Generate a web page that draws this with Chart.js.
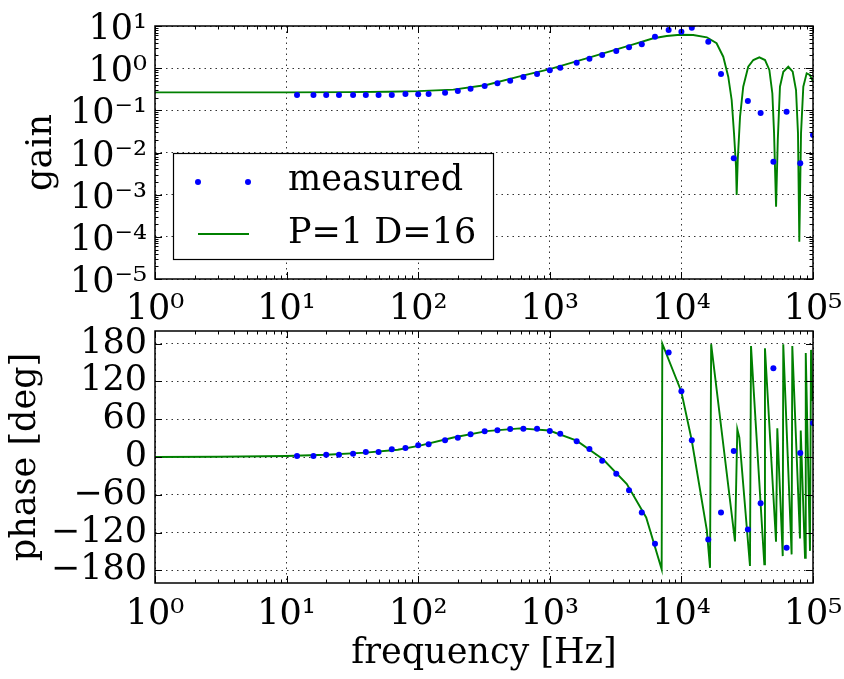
<!DOCTYPE html>
<html>
<head>
<meta charset="utf-8">
<title>gain / phase</title>
<script src="https://cdn.jsdelivr.net/npm/chart.js@4.4.1/dist/chart.umd.min.js"></script>
<style>
  body { margin: 0; background: #fff; }
  #wrap { position: relative; width: 844px; height: 679px; }
  #wrap canvas { position: absolute; left: 0; top: 0; }
</style>
</head>
<body>
<div id="wrap">
  <canvas id="gainChart" width="844" height="679"></canvas>
  <canvas id="phaseChart" width="844" height="679"></canvas>
</div>
<script>
// measured points
const measuredFreq = [12, 16, 20, 25, 32, 40, 50, 63, 80, 100,
  120, 160, 200, 250, 320, 400, 500, 630, 800, 1000,
  1200, 1600, 2000, 2500, 3200, 4000, 5000, 6300, 8000, 10000,
  12000, 16000, 20000, 25000, 32000, 40000, 50000, 63000, 80000, 100000];
const measuredGain = [0.23, 0.23, 0.23, 0.23, 0.23, 0.23, 0.23, 0.23, 0.245, 0.24,
  0.244, 0.262, 0.288, 0.327, 0.378, 0.438, 0.505, 0.618, 0.728, 0.889,
  1.03, 1.35, 1.68, 2.05, 2.55, 3.12, 3.68, 5.58, 8.04, 7.33,
  9.12, 4.25, 0.728, 0.0073, 0.167, 0.0865, 0.006, 0.093, 0.00555, 0.026];
const measuredPhase = [1.6, 1.6, 3.7, 3.7, 5.3, 7.9, 7.9, 12.2, 14.3, 18.5,
  20.1, 26.5, 30.7, 36.0, 40.8, 42.4, 44.5, 45.0, 45.0, 41.3,
  37.0, 24.9, 12.7, -5.8, -26.5, -52.9, -87.9, -137.7, 165.7, 104.4,
  26.5, -130.8, -87.9, 9.5, -114.9, -73.6, 140.9, -144.1, 6.4, 54];

// model curve P=1 D=16
const modelGainFreq = [1, 10, 30, 60, 100, 185, 330, 600, 1000, 1900,
  3220, 4310, 6120, 7730, 9760, 12300, 15600, 18500, 20800, 22700,
  24100, 25100, 26000, 26300, 26800, 27900, 29500, 32200, 35200, 39100,
  43200, 46600, 49100, 50600, 52400, 54000, 56100, 59500, 64900, 70100,
  74300, 76900, 78700, 81100, 84400, 89500, 94800, 100000];
const modelGain = [0.267, 0.267, 0.27, 0.276, 0.285, 0.31, 0.40, 0.65, 0.95, 1.7,
  2.8, 3.68, 5.11, 5.79, 6.22, 6.12, 5.40, 3.89, 1.87, 0.628,
  0.176, 0.029, 0.0046, 0.00098, 0.0066, 0.0706, 0.364, 1.08, 1.56, 1.81,
  1.56, 0.905, 0.254, 0.0286, 0.00052, 0.0198, 0.364, 0.824, 1.08, 0.824,
  0.303, 0.0286, 0.0000767, 0.0286, 0.364, 0.755, 0.689, 0.478];

const modelPhaseFreq = [1, 3, 10, 20, 40, 70, 103, 185, 331, 594,
  991, 1600, 2550, 3850, 5400, 7080, 7160, 9980, 11970, 15600,
  16500, 16830, 25540, 26600, 27550, 33200, 33800, 42660, 43150, 52350,
  53550, 58880, 59440, 68800, 69620, 79620, 80700, 86960, 88100, 94860,
  96600, 98900];
const modelPhase = [0, 0.3, 1.5, 3.5, 7, 11.5, 18, 31, 41, 45.5,
  42, 26, -4, -43, -96, -178.4, 180, 104, 27, -116,
  -176, 179, -134, 44, 31, -173, 176, -170.5, 172.7, -134.6,
  45.6, -157.3, 179, -154.6, 176, -129.5, 42, -160, 165, -149,
  170, 89];

// ticks
const freqTicks = [1, 10, 100, 1000, 10000, 100000];
const freqTickLabels = ['10\u2070', '10\u00b9', '10\u00b2', '10\u00b3', '10\u2074', '10\u2075'];
const gainTicks = [1e-5, 1e-4, 1e-3, 1e-2, 1e-1, 1, 10];
const gainTickLabels = ['10\u207b\u2075', '10\u207b\u2074', '10\u207b\u00b3', '10\u207b\u00b2', '10\u207b\u00b9', '10\u2070', '10\u00b9'];
const phaseTicks = [-180, -120, -60, 0, 60, 120, 180];
const phaseTickLabels = ['\u2212180', '\u2212120', '\u221260', '0', '60', '120', '180'];

const FONT = 'DejaVu Serif';
const tickFont = { family: FONT, size: 35 };
const labelFont = { family: FONT, size: 35 };

Chart.defaults.font.family = FONT;
Chart.defaults.color = '#000';
Chart.defaults.animation = false;

function pts(xs, ys) {
  return xs.map((x, i) => ({ x: x, y: ys[i] }));
}

function setTicks(values) {
  return function (scale) {
    scale.ticks = values.map(v => ({ value: v }));
  };
}

function labelFrom(values, labels) {
  return function (value) {
    const i = values.indexOf(value);
    return i < 0 ? '' : labels[i];
  };
}

// frame + inward ticks on all four sides, like matplotlib
const frameTicks = {
  id: 'frameTicks',
  afterDatasetsDraw(chart) {
    const ctx = chart.ctx, a = chart.chartArea;
    const xs = chart.scales.x, ys = chart.scales.y;
    ctx.save();
    ctx.strokeStyle = '#000';
    ctx.lineWidth = 1;
    const seg = (x1, y1, x2, y2) => {
      ctx.beginPath(); ctx.moveTo(x1, y1); ctx.lineTo(x2, y2); ctx.stroke();
    };
    const minorVals = (scale) => {
      if (scale.type !== 'logarithmic') return [];
      const out = [];
      const t = scale.ticks.map(k => k.value);
      for (let i = 0; i < t.length - 1; i++) {
        for (let k = 2; k <= 9; k++) out.push(t[i] * k);
      }
      return out;
    };
    xs.ticks.forEach(t => {
      const p = Math.round(xs.getPixelForValue(t.value)) + 0.5;
      seg(p, a.bottom, p, a.bottom - 7);
      seg(p, a.top, p, a.top + 7);
    });
    minorVals(xs).forEach(v => {
      const p = Math.round(xs.getPixelForValue(v)) + 0.5;
      seg(p, a.bottom, p, a.bottom - 3.5);
      seg(p, a.top, p, a.top + 3.5);
    });
    ys.ticks.forEach(t => {
      const p = Math.round(ys.getPixelForValue(t.value)) + 0.5;
      seg(a.left, p, a.left + 7, p);
      seg(a.right, p, a.right - 7, p);
    });
    minorVals(ys).forEach(v => {
      const p = Math.round(ys.getPixelForValue(v)) + 0.5;
      seg(a.left, p, a.left + 3.5, p);
      seg(a.right, p, a.right - 3.5, p);
    });
    ctx.lineWidth = 1.5;
    ctx.strokeRect(a.left, a.top, a.right - a.left, a.bottom - a.top);
    ctx.restore();
  }
};

// legend box in the gain panel
const boxLegend = {
  id: 'boxLegend',
  afterDraw(chart) {
    const ctx = chart.ctx;
    const ds = chart.data.datasets;
    ctx.save();
    ctx.fillStyle = '#fff';
    ctx.fillRect(173, 153, 320, 106);
    ctx.strokeStyle = '#000';
    ctx.lineWidth = 1.2;
    ctx.strokeRect(173.5, 153.5, 320, 106);
    // measured
    ctx.fillStyle = ds[0].backgroundColor;
    [198, 248].forEach(x => {
      ctx.beginPath(); ctx.arc(x, 182, 3, 0, Math.PI * 2); ctx.fill();
    });
    // model
    ctx.strokeStyle = ds[1].borderColor;
    ctx.lineWidth = ds[1].borderWidth;
    ctx.beginPath(); ctx.moveTo(198, 234); ctx.lineTo(249, 234); ctx.stroke();
    ctx.fillStyle = '#000';
    ctx.font = labelFont.size + 'px "' + FONT + '"';
    ctx.textBaseline = 'middle';
    ctx.fillText(ds[0].label, 288, 181);
    ctx.fillText(ds[1].label, 288, 234);
    ctx.restore();
  }
};

const gridOpts = { color: 'rgba(0,0,0,0.8)', lineWidth: 1, drawTicks: false };
const borderOpts = { display: false, dash: [1.5, 4] };

function zeroPad(scale) {
  scale.paddingTop = 0; scale.paddingBottom = 0;
  scale.paddingLeft = 0; scale.paddingRight = 0;
}

const measuredStyle = {
  label: 'measured', showLine: false, pointRadius: 3, pointHoverRadius: 3,
  backgroundColor: '#0000ff', borderColor: '#0000ff', pointBorderWidth: 0
};
const modelStyle = {
  label: 'P=1 D=16', showLine: true, pointRadius: 0, borderWidth: 1.9,
  borderColor: '#008000', backgroundColor: '#008000', tension: 0
};

new Chart(document.getElementById('gainChart'), {
  type: 'scatter',
  data: {
    datasets: [
      Object.assign({ data: pts(measuredFreq, measuredGain) }, measuredStyle),
      Object.assign({ data: pts(modelGainFreq, modelGain) }, modelStyle)
    ]
  },
  options: {
    responsive: false,
    layout: { padding: { top: 26, right: 31, bottom: 349, left: 0 } },
    plugins: { legend: { display: false }, tooltip: { enabled: false } },
    scales: {
      x: {
        type: 'logarithmic', min: 1, max: 1e5,
        afterBuildTicks: setTicks(freqTicks),
        afterFit: s => { s.height = 51; zeroPad(s); },
        grid: gridOpts, border: borderOpts,
        ticks: { autoSkip: false, maxRotation: 0, padding: 10, font: tickFont, color: '#000',
          callback: labelFrom(freqTicks, freqTickLabels) }
      },
      y: {
        type: 'logarithmic', min: 1e-5, max: 10,
        afterBuildTicks: setTicks(gainTicks),
        afterFit: s => { s.width = 155; zeroPad(s); },
        grid: gridOpts, border: borderOpts,
        title: { display: true, text: 'gain', font: labelFont, color: '#000', padding: { top: 21 } },
        ticks: { autoSkip: false, padding: 8, labelOffset: 4, font: tickFont, color: '#000',
          callback: labelFrom(gainTicks, gainTickLabels) }
      }
    }
  },
  plugins: [frameTicks, boxLegend]
});

new Chart(document.getElementById('phaseChart'), {
  type: 'scatter',
  data: {
    datasets: [
      Object.assign({ data: pts(measuredFreq, measuredPhase) }, measuredStyle),
      Object.assign({ data: pts(modelPhaseFreq, modelPhase) }, modelStyle)
    ]
  },
  options: {
    responsive: false,
    layout: { padding: { top: 331, right: 31, bottom: 0, left: 0 } },
    plugins: { legend: { display: false }, tooltip: { enabled: false } },
    scales: {
      x: {
        type: 'logarithmic', min: 1, max: 1e5,
        afterBuildTicks: setTicks(freqTicks),
        afterFit: s => { s.height = 96; zeroPad(s); },
        grid: gridOpts, border: borderOpts,
        title: { display: true, text: 'frequency [Hz]', font: labelFont, color: '#000', padding: { top: 0, bottom: 4 } },
        ticks: { autoSkip: false, maxRotation: 0, padding: 11, font: tickFont, color: '#000',
          callback: labelFrom(freqTicks, freqTickLabels) }
      },
      y: {
        type: 'linear', min: -200, max: 200,
        afterBuildTicks: setTicks(phaseTicks),
        afterFit: s => { s.width = 155; zeroPad(s); },
        grid: gridOpts, border: borderOpts,
        title: { display: true, text: 'phase [deg]', font: labelFont, color: '#000', padding: { top: 5 } },
        ticks: { autoSkip: false, padding: 8, font: tickFont, color: '#000',
          callback: labelFrom(phaseTicks, phaseTickLabels) }
      }
    }
  },
  plugins: [frameTicks]
});
</script>
</body>
</html>
